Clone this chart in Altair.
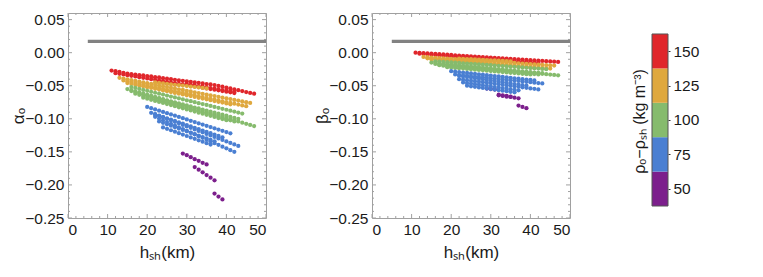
import altair as alt
import pandas as pd

# ---------------- data ----------------
rho_values = [150, 125, 100, 75, 50]
rho_colors = ["#e0262b", "#dfa83e", "#86bb6d", "#4a7fd2", "#7c1f8c"]

R1_x0 = 11
R1_a = [-27, -28, -29, -30.5, -31.5, -32.5, -33, -34, -34.5, -35.3, -36, -37, -37.5, -38.5, -39.3, -40, -41, -42, -42.5,
        -43.5, -44, -45, -45.5, -46.5, -47.5, -48, -49, -50.3, -51.5, -53, -54, -55.5, -56.8, -58, -59.5, -60.8, -62]
R1_b = [0, -0.4, -0.8, -1.2, -1.6, -1.9, -2.3, -2.7, -3.1, -3.5, -3.9, -4.3, -4.7, -5.1, -5.4, -5.8, -6.2, -6.6, -7.0,
        -7.4, -7.8, -8.2, -8.6, -8.9, -9.3, -9.7, -10.1, -10.5, -10.9, -11.3, -11.7, -12.1, -12.4, -12.8, -13.2, -13.6, -14.0]
R2_x0 = 12
R2_a = [-31, -32, -33, -34, -35, -36, -37, -38, -39, -40, -41, -42, -43, -44, -45, -46, -47, -48, -49, -50, -51, -52,
        -53, -54, -55, -56, -57, -58, -59, -60, -61]
R2_b = [-1.5, -2.0, -2.6, -3.1, -3.6, -4.2, -4.7, -5.2, -5.8, -6.3, -6.8, -7.4, -7.9, -8.4, -9.0, -9.5, -10.0, -10.6,
        -11.1, -11.6, -12.2, -12.7, -13.2, -13.8, -14.3, -14.8, -15.4, -15.9, -16.4, -17.0, -17.5]
R3_x0 = 23
R3_a = [-44.5, -45.5, -46.5, -47, -48]
R3_b = [-9, -9.5, -10, -10.5, -11]
R4_x0 = 30
R4_a = [-47.5, -48.5, -49.5, -50.5, -51.5, -52.5, -53.5, -54.5, -55.5, -56.5, -57.5, -58.5, -59.5]
R4_b = [-9, -9.5, -10.1, -10.6, -11.2, -11.7, -12.2, -12.8, -13.3, -13.9, -14.4, -14.9, -15.5]

O0_x0 = 22
O0_a = [-45, -45.7, -46.4, -47.1, -47.8, -48.5, -49.2, -49.8, -50.5, -51.2, -51.9, -52.6, -53.3, -54]
O0_b = [-9, -9.3, -9.6, -9.9, -10.2, -10.5, -10.8, -11.2, -11.5, -11.8, -12.1, -12.4, -12.7, -13]
O1_x0 = 13
O1_a = [-38, -39.2, -40.3, -41.5, -42.6, -43.8, -44.9, -46.1, -47.2, -48.4, -49.5, -50.7, -51.8, -53, -54.1, -55.3,
        -56.4, -57.6, -58.7, -59.9, -61, -62.2, -63.3, -64.5, -65.6, -66.8, -67.9, -69.1, -70.2, -71.4, -72.5, -73.7,
        -74.8, -76]
O1_b = [-6.5, -6.9, -7.3, -7.7, -8.1, -8.5, -8.9, -9.3, -9.7, -10.0, -10.4, -10.8, -11.2, -11.6, -12.0, -12.4, -12.8,
        -13.2, -13.6, -14.0, -14.4, -14.8, -15.2, -15.6, -16.0, -16.4, -16.8, -17.2, -17.6, -18.0, -18.4, -18.7, -19.1,
        -19.5]
O2_x0 = 14
O2_a = [-42, -43.3, -44.5, -45.8, -47, -48.3, -49.5, -50.8, -52.1, -53.3, -54.6, -55.8, -57.1, -58.4, -59.6, -60.9,
        -62.1, -63.4, -64.6, -65.9, -67.2, -68.4, -69.7, -70.9, -72.2, -73.5, -74.7, -76, -77.2, -78.5, -79.7, -81]
O2_b = [-8.5, -9, -9.5, -10, -10.5, -11, -11.5, -12, -12.5, -13, -13.5, -14, -14.5, -15, -15.5, -16, -16.5, -17,
        -17.5, -18, -18.5, -19, -19.5, -20, -20.5, -21, -21.5, -22, -22.5, -23, -23.5, -24]
O3_x0 = 15
O3_a = [-46, -47.2, -48.5, -49.7, -50.9, -52.2, -53.4, -54.6, -55.8, -57.1, -58.3, -59.5, -60.8, -62, -63.2, -64.5,
        -65.7, -66.9, -68.2, -69.4, -70.6, -71.8, -73.1, -74.3, -75.5, -76.8, -78]
O3_b = [-10, -10.5, -11, -11.5, -12, -12.5, -13, -13.5, -14, -14.5, -15, -15.5, -16, -16.5, -17, -17.5, -18, -18.5,
        -19, -19.5, -20, -20.5, -21, -21.5, -22, -22.5, -23]

G0_x0 = 16
G0_a = [-52, -53.4, -54.9, -56.3, -57.7, -59.1, -60.6, -62, -63.4, -64.9, -66.3, -67.7, -69.1, -70.6, -72, -73.4,
        -74.9, -76.3, -77.7, -79.1, -80.6, -82, -83.4, -84.9, -86.3, -87.7, -89.1, -90.6, -92]
G0_b = [-13, -13.4, -13.9, -14.3, -14.7, -15.1, -15.6, -16, -16.4, -16.9, -17.3, -17.7, -18.1, -18.6, -19, -19.4,
        -19.9, -20.3, -20.7, -21.1, -21.6, -22, -22.4, -22.9, -23.3, -23.7, -24.1, -24.6, -25]
G1_x0 = 15
G1_a = [-55, -56.8, -58.5, -60.3, -62, -63.8, -65.5, -67.3, -69, -70.8, -72.5, -74.3, -76, -77.8, -79.5, -81.3, -83,
        -84.8, -86.5, -88.3, -90, -91.8, -93.5, -95.3, -97, -98.8, -100.5, -102.3, -104, -105.8, -107.5, -109.3, -111]
G1_b = [-15, -15.6, -16.2, -16.8, -17.4, -18, -18.6, -19.2, -19.8, -20.4, -21, -21.6, -22.2, -22.8, -23.4, -24, -24.6,
        -25.3, -25.9, -26.5, -27.1, -27.7, -28.3, -28.9, -29.5, -30.1, -30.7, -31.3, -31.9, -32.5, -33.1, -33.7, -34.3]
G2_x0 = 16
G2_a = [-58, -59.6, -61.1, -62.7, -64.2, -65.8, -67.3, -68.9, -70.4, -72, -73.6, -75.1, -76.7, -78.2, -79.8, -81.3,
        -82.9, -84.4, -86, -87.6, -89.1, -90.7, -92.2, -93.8, -95.3, -96.9, -98.4, -100]
G2_b = [-17, -17.5, -18, -18.6, -19.1, -19.6, -20.1, -20.6, -21.1, -21.7, -22.2, -22.7, -23.2, -23.7, -24.3, -24.8,
        -25.3, -25.8, -26.3, -26.9, -27.4, -27.9, -28.4, -28.9, -29.4, -30, -30.5, -31]
G3_x0 = 17
G3_a = [-62, -63.7, -65.4, -67, -68.7, -70.4, -72.1, -73.8, -75.4, -77.1, -78.8, -80.5, -82.2, -83.8, -85.5, -87.2,
        -88.9, -90.6, -92.2, -93.9, -95.6, -97.3, -99, -100.6, -102.3, -104]
G3_b = [-19, -19.6, -20.1, -20.7, -21.2, -21.8, -22.4, -22.9, -23.5, -24, -24.6, -25.2, -25.7, -26.3, -26.8, -27.4,
        -28, -28.5, -29.1, -29.6, -30.2, -30.8, -31.3, -31.9, -32.4, -33]
G4_x0 = 19
G4_a = [-68, -69.6, -71.2, -72.9, -74.5, -76.1, -77.7, -79.3, -81, -82.6, -84.2, -85.8, -87.4, -89, -90.7, -92.3,
        -93.9, -95.5, -97.1, -98.8, -100.4, -102]
G4_b = [-22, -22.5, -23, -23.6, -24.1, -24.6, -25.1, -25.7, -26.2, -26.7, -27.2, -27.8, -28.3, -28.8, -29.3, -29.9,
        -30.4, -30.9, -31.4, -31.9, -32.5, -33]

B1_x0 = 20
B1_a = [-82, -83.9, -85.8, -87.7, -89.6, -91.5, -93.4, -95.3, -97.2, -99.1, -101, -103, -104.9, -106.8, -108.7,
        -110.6, -112.5, -114.4, -116.3, -118.2, -120.1, -122]
B1_b = [-28, -28.7, -29.3, -30, -30.7, -31.3, -32, -32.7, -33.3, -34, -34.7, -35.3, -36, -36.7, -37.3, -38, -38.7,
        -39.3, -40, -40.7, -41.3, -42]
B2_x0 = 21
B2_a = [-91, -93.3, -95.5, -97.8, -100.1, -102.4, -104.6, -106.9, -109.2, -111.5, -113.7, -116, -118.3, -120.5,
        -122.8, -125.1, -127.4, -129.6, -131.9, -134.2, -136.5, -138.7, -141]
B2_b = [-33, -33.6, -34.2, -34.8, -35.5, -36.1, -36.7, -37.3, -37.9, -38.5, -39.1, -39.8, -40.4, -41, -41.6, -42.2,
        -42.8, -43.4, -44, -44.7, -45.3, -45.9, -46.5]
B3_x0 = 22
B3_a = [-97, -99.7, -102.3, -105, -107.6, -110.3, -112.9, -115.6, -118.2, -120.9, -123.5, -126.2, -128.8, -131.5,
        -134.1, -136.8, -139.4, -142.1, -144.7, -147.4, -150]
B3_b = [-40, -40.8, -41.6, -42.3, -43.1, -43.9, -44.7, -45.4, -46.2, -47, -47.8, -48.5, -49.3, -50.1, -50.9, -51.6,
        -52.4, -53.2, -54, -54.7, -55.5]
B4_x0 = 24
B4_a = [-113, -115.2, -117.3, -119.5, -121.7, -123.8, -126, -128.2, -130.3, -132.5, -134.7, -136.8, -139]
B4_b = [-50, -50.8, -51.7, -52.5, -53.3, -54.2, -55, -55.8, -56.7, -57.5, -58.3, -59.2, -60]
B5_x0 = 22
B5_a = [-93, -95.1, -97.1, -99.2, -101.2, -103.3, -105.4, -107.4, -109.5, -111.5, -113.6, -115.6, -117.7, -119.8,
        -121.8, -123.9, -125.9, -128]
B5_b = [-35, -35.9, -36.8, -37.6, -38.5, -39.4, -40.3, -41.2, -42.1, -42.9, -43.8, -44.7, -45.6, -46.5, -47.4, -48.2,
        -49.1, -50]
B6_x0 = 23
B6_a = [-104, -106.1, -108.3, -110.4, -112.6, -114.7, -116.9, -119, -121.1, -123.3, -125.4, -127.6, -129.7, -131.9,
        -134]
B6_b = [-45, -45.9, -46.7, -47.6, -48.4, -49.3, -50.1, -51, -51.9, -52.7, -53.6, -54.4, -55.3, -56.1, -57]

P1_x0 = 29
P1_a = [-152.5, -155, -158, -161, -163.5, -166.5, -169]
P1_b = [-54.2, -55, -55.8, -63.5, -64.5, -65.5, -66.5]
P2_x0 = 32
P2_a = [-173, -177, -181, -185, -189, -193]
P2_b = [-64.5, -65.5, -66.5, -67, -68, -69]
P3_x0 = 37
P3_a = [-213, -217.5, -222]
P3_b = [-80, -82, -84]

series = [
    (50, P1_x0, P1_a, P1_b), (50, P2_x0, P2_a, P2_b), (50, P3_x0, P3_a, P3_b),
    (150, R1_x0, R1_a, R1_b), (150, R2_x0, R2_a, R2_b), (150, R3_x0, R3_a, R3_b), (150, R4_x0, R4_a, R4_b),
    (125, O0_x0, O0_a, O0_b), (125, O1_x0, O1_a, O1_b), (125, O2_x0, O2_a, O2_b), (125, O3_x0, O3_a, O3_b),
    (100, G0_x0, G0_a, G0_b), (100, G1_x0, G1_a, G1_b), (100, G2_x0, G2_a, G2_b), (100, G3_x0, G3_a, G3_b),
    (100, G4_x0, G4_a, G4_b),
    (75, B1_x0, B1_a, B1_b), (75, B2_x0, B2_a, B2_b), (75, B3_x0, B3_a, B3_b), (75, B4_x0, B4_a, B4_b),
    (75, B5_x0, B5_a, B5_b), (75, B6_x0, B6_a, B6_b),
]

ref_x = [5, 50]
ref_y = [0.017, 0.017]

band_lo = [37.5, 62.5, 87.5, 112.5, 137.5]
band_hi = [62.5, 87.5, 112.5, 137.5, 162.5]
band_rho = [50, 75, 100, 125, 150]

x_ticks = [0, 10, 20, 30, 40, 50]
x_minor = [2, 4, 6, 8, 12, 14, 16, 18, 22, 24, 26, 28, 32, 34, 36, 38, 42, 44, 46, 48]
y_ticks = [-0.25, -0.20, -0.15, -0.10, -0.05, 0.00, 0.05]
y_minor = [-0.24, -0.23, -0.22, -0.21, -0.19, -0.18, -0.17, -0.16, -0.14, -0.13, -0.12, -0.11,
           -0.09, -0.08, -0.07, -0.06, -0.04, -0.03, -0.02, -0.01, 0.01, 0.02, 0.03, 0.04]
cb_ticks = [50, 75, 100, 125, 150]

# ---------------- tables ----------------
rows = []
k = 0
for rho, x0, a_vals, b_vals in series:
    for i, (a, b) in enumerate(zip(a_vals, b_vals)):
        rows.append({"x": x0 + i, "alpha": a / 1000.0, "beta": b / 1000.0, "rho": rho, "ord": k})
        k += 1
pts = pd.DataFrame(rows)
ref = pd.DataFrame({"x": [ref_x[0]], "x2": [ref_x[1]], "y": [ref_y[0]]})
bands = pd.DataFrame({"lo": band_lo, "hi": band_hi, "rho": band_rho, "c0": 0, "c1": 1})
outline = pd.DataFrame({"lo": [band_lo[0]], "hi": [band_hi[-1]], "c0": [0], "c1": [1]})

FONT = "Liberation Sans"
TXT = "#1a1a1a"
FRAME = "#a0a0a0"
LBL = 15.5
W, H = 198, 205
color_scale = alt.Scale(domain=rho_values, range=rho_colors)


def panel(field, title):
    xs = alt.Scale(domain=[0, 50], nice=False, zero=False)
    ys = alt.Scale(domain=[-0.25, 0.06], nice=False, zero=False)
    xax = alt.Axis(values=x_ticks, title="hₛₕ(km)", format="d", ticks=False, domain=False, grid=False,
                   labelPadding=4, titlePadding=7, labelFontSize=LBL, titleFontSize=17,
                   labelFont=FONT, titleFont=FONT, labelColor=TXT, titleColor=TXT, titleFontWeight="normal")
    yax = alt.Axis(values=y_ticks, title=title, format=".2f", ticks=False, domain=False, grid=False,
                   labelPadding=4, titlePadding=-2, labelFontSize=LBL, titleFontSize=17,
                   labelFont=FONT, titleFont=FONT, labelColor=TXT, titleColor=TXT, titleFontWeight="normal",
                   minExtent=43, maxExtent=43)

    def xt(vals, ln, top):
        d = pd.DataFrame({"v": vals})
        y0, y1 = (0, ln) if top else (H, H - ln)
        return alt.Chart(d).mark_rule(color=FRAME, strokeWidth=1).encode(
            x=alt.X("v:Q", scale=xs, axis=xax), y=alt.value(y0), y2=alt.value(y1))

    def yt(vals, ln, right_side):
        d = pd.DataFrame({"v": vals})
        x0, x1 = (W, W - ln) if right_side else (0, ln)
        return alt.Chart(d).mark_rule(color=FRAME, strokeWidth=1).encode(
            y=alt.Y("v:Q", scale=ys, axis=yax), x=alt.value(x0), x2=alt.value(x1))

    ticks = [xt(x_ticks, 4, False), xt(x_ticks, 4, True), xt(x_minor, 2, False), xt(x_minor, 2, True),
             yt(y_ticks, 4, False), yt(y_ticks, 4, True), yt(y_minor, 2, False), yt(y_minor, 2, True)]
    line = alt.Chart(ref).mark_rule(color="#828282", strokeWidth=3.2).encode(
        x=alt.X("x:Q", scale=xs, axis=xax), x2="x2:Q",
        y=alt.Y("y:Q", scale=ys, axis=yax))
    dots = alt.Chart(pts).mark_circle(size=18, opacity=1).encode(
        x=alt.X("x:Q", scale=xs, axis=xax),
        y=alt.Y(f"{field}:Q", scale=ys, axis=yax),
        color=alt.Color("rho:O", scale=color_scale, legend=None),
        order=alt.Order("ord:Q"))
    return alt.layer(*ticks, line, dots).properties(
        width=W, height=H, view=alt.ViewBackground(stroke=FRAME, strokeWidth=1))


left = panel("alpha", "αₒ")
right = panel("beta", "βₒ")

# colour bar: its view starts 106 px after the right panel; the bar itself sits 24 px to the left of it
cb_x = alt.Scale(domain=[1.5, 2.5], nice=False, zero=False)
cb_scale = alt.Scale(domain=[28.78, 177.76], nice=False, zero=False)
cb_bars = alt.Chart(bands).mark_rect().encode(
    x=alt.X("c0:Q", scale=cb_x, axis=None), x2="c1:Q",
    y=alt.Y("lo:Q", scale=cb_scale,
            axis=alt.Axis(orient="right", values=cb_ticks, title=None, domain=False, grid=False, offset=-24,
                          ticks=True, tickSize=2, tickColor="#333", labelPadding=3, labelFontSize=LBL,
                          labelFont=FONT, labelColor=TXT)),
    y2="hi:Q",
    color=alt.Color("rho:O", scale=color_scale, legend=None))
cb_frame = alt.Chart(outline).mark_rect(fill=None, stroke="#555555", strokeWidth=1).encode(
    x=alt.X("c0:Q", scale=cb_x, axis=None), x2="c1:Q",
    y=alt.Y("lo:Q", scale=cb_scale,
            axis=alt.Axis(orient="left", labels=False, ticks=False, domain=False, grid=False,
                          title="ρₒ−ρₛₕ  (kg m⁻³)", titleFont=FONT, titleFontSize=16, titleColor=TXT,
                          titleFontWeight="normal", titlePadding=29, titleY=108, minExtent=0, maxExtent=0)),
    y2="hi:Q")
colorbar = alt.layer(cb_bars, cb_frame).resolve_axis(y="independent").properties(
    width=16, height=H, view=alt.ViewBackground(stroke="transparent"))

chart = alt.hconcat(left, right, colorbar, spacing=106, bounds="flush").properties(
    padding={"left": 0, "top": 4, "right": 0, "bottom": 0},
    background="white")

chart.save("out.html", embed_options={"renderer": "svg", "actions": False})
